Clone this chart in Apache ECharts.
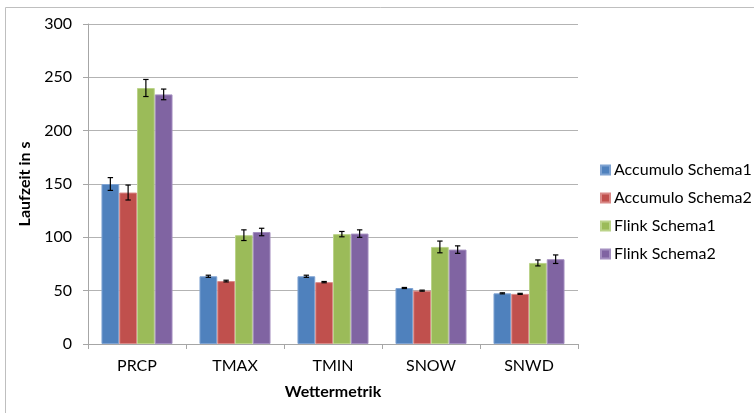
<!DOCTYPE html>
<html><head><meta charset="utf-8">
<script src="https://cdn.jsdelivr.net/npm/echarts@6/dist/echarts.min.js"></script>
<style>html,body{margin:0;padding:0;background:#fff}#c{width:754px;height:413px}</style>
</head><body><div id="c"></div>
<script>
const categories = ['PRCP', 'TMAX', 'TMIN', 'SNOW', 'SNWD'];
const seriesNames = ['Accumulo Schema1', 'Accumulo Schema2', 'Flink Schema1', 'Flink Schema2'];
const accumulo1 = [150, 63.5, 63.5, 52.5, 47.5];
const accumulo2 = [142, 59, 58, 50, 47];
const flink1 = [240, 102, 103, 91, 76];
const flink2 = [234, 105, 103.5, 88.5, 79.5];
const accumulo1Err = [6, 1, 1, 0.5, 0.5];
const accumulo2Err = [7, 0.8, 0.6, 0.5, 0.5];
const flink1Err = [8, 5, 2.5, 5.5, 2.8];
const flink2Err = [5, 3.5, 3.5, 3.5, 4];
const yTicks = [0, 50, 100, 150, 200, 250, 300];

const values = [accumulo1, accumulo2, flink1, flink2];
const errors = [accumulo1Err, accumulo2Err, flink1Err, flink2Err];
const colors = ['#4F81BD', '#C0504D', '#9BBB59', '#8064A2'];
const borders = ['#7FA3D2', '#D98A88', '#BBD38A', '#A48FC0'];
const FONT = 'Lato, "Noto Sans", sans-serif';
const CAT_GAP = 0.275;

const errData = [];
values.forEach((vals, s) => vals.forEach((v, i) => {
  errData.push([i, v - errors[s][i], v + errors[s][i], s]);
}));

const chart = echarts.init(document.getElementById('c'), null, {renderer: 'canvas'});
const barSeries = values.map((vals, s) => ({
  name: seriesNames[s], type: 'bar', data: vals,
  barGap: '0%', barCategoryGap: (CAT_GAP * 100) + '%',
  itemStyle: {color: colors[s], borderColor: borders[s], borderWidth: 1},
  emphasis: {disabled: true}
}));
chart.setOption({
  animation: false,
  textStyle: {fontFamily: FONT},
  graphic: [{type: 'rect', shape: {x: 5.5, y: 7.5, width: 800, height: 500},
    style: {fill: 'none', stroke: '#bfbfbf', lineWidth: 1}, z: -10}],
  grid: {left: 88, right: 176, top: 24, bottom: 69},
  legend: {
    orient: 'vertical', left: 595, top: 157, itemWidth: 9, itemHeight: 9, itemGap: 12,
    icon: 'rect', data: seriesNames,
    textStyle: {fontFamily: FONT, fontSize: 16, color: '#000', padding: [0, 0, 0, -1]}
  },
  xAxis: {
    type: 'category', data: categories,
    name: 'Wettermetrik', nameLocation: 'middle', nameGap: 40,
    nameTextStyle: {fontFamily: FONT, fontSize: 16, fontWeight: 'bold', color: '#000'},
    axisLine: {lineStyle: {color: '#a6a6a6'}},
    axisTick: {show: true, length: 5, lineStyle: {color: '#a6a6a6'}},
    axisLabel: {fontFamily: FONT, fontSize: 16, color: '#000', margin: 14},
    splitLine: {show: false}
  },
  yAxis: {
    type: 'value', min: 0, max: 300, interval: 50,
    name: 'Laufzeit in s', nameLocation: 'middle', nameGap: 43,
    nameTextStyle: {fontFamily: FONT, fontSize: 16, fontWeight: 'bold', color: '#000'},
    axisLine: {show: true, lineStyle: {color: '#a6a6a6'}},
    axisTick: {show: true, length: 5, lineStyle: {color: '#a6a6a6'}},
    axisLabel: {fontFamily: FONT, fontSize: 16, color: '#000', margin: 16,
      formatter: v => yTicks.includes(v) ? String(v) : ''},
    splitLine: {lineStyle: {color: '#b3b3b3', width: 1}}
  },
  series: barSeries.concat([{
    type: 'custom', name: 'err', data: errData, z: 10, silent: true,
    encode: {x: 0, y: [1, 2]},
    renderItem: (params, api) => {
      const cat = api.value(0), lo = api.value(1), hi = api.value(2), s = api.value(3);
      const bandW = api.size([1, 0])[0];
      const barW = bandW * (1 - CAT_GAP) / 4;
      const pLo = api.coord([cat, lo]);
      const pHi = api.coord([cat, hi]);
      const x = pLo[0] - 2 * barW + barW * (s + 0.5);
      const cap = 2.7;
      const st = {stroke: '#000', lineWidth: 1.2};
      return {type: 'group', children: [
        {type: 'line', shape: {x1: x, y1: pLo[1], x2: x, y2: pHi[1]}, style: st},
        {type: 'line', shape: {x1: x - cap, y1: pLo[1], x2: x + cap, y2: pLo[1]}, style: st},
        {type: 'line', shape: {x1: x - cap, y1: pHi[1], x2: x + cap, y2: pHi[1]}, style: st}
      ]};
    }
  }])
});
</script></body></html>
